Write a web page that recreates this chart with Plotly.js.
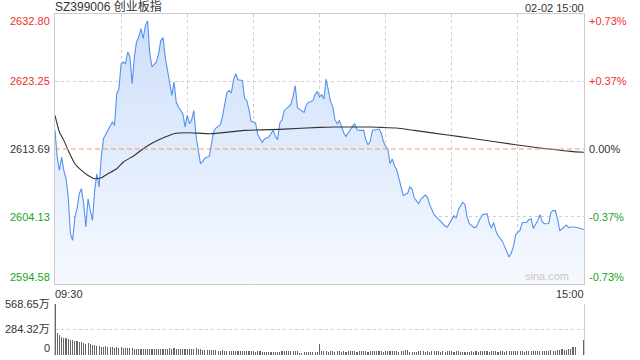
<!DOCTYPE html>
<html>
<head>
<meta charset="utf-8">
<script src="https://cdn.plot.ly/plotly-3.0.1.min.js"></script>
<style>
html,body{margin:0;padding:0;background:#fff;}
#chart{width:640px;height:360px;}
</style>
</head>
<body>
<div id="chart"></div>
<script>
// ---- data (minute index from 09:30, 0..240) ----
const priceMinute = [0,1,2,3,4,5,6,7,8,9,10,11,12,13,14,15,16,17,18,19,20,21,22,24,25,26,27,28,29,30,31,32,33,34,35,36,37,38,39,40,41,42,43,44,46,47,48,49,50,51,52,53,54,55,56,58,59,60,61,62,63,64,65,66,67,68,70,71,72,73,75,76,77,78,79,80,81,82,83,85,86,87,88,89,91,92,94,95,97,99,100,101,102,103,104,106,107,108,109,110,111,113,114,115,117,118,119,120,121,122,123,124,125,126,127,128,129,130,131,132,133,134,135,136,137,138,140,141,142,143,144,146,147,148,149,150,151,152,153,154,155,156,157,158,160,161,162,163,165,166,168,169,170,171,172,174,175,177,178,180,181,182,183,185,186,187,188,190,191,193,194,196,197,198,199,200,201,203,204,206,207,208,209,211,212,214,215,216,217,219,220,221,222,224,225,226,227,228,229,231,232,233,234,236,237,239,240];
const priceValue = [2616.32,2612.56,2610.66,2612.56,2610.66,2609.49,2606.89,2601.70,2600.75,2604.00,2605.24,2607.36,2608.07,2605.95,2602.65,2606.65,2605.00,2603.58,2607.83,2610.19,2608.31,2612.56,2615.15,2616.32,2617.03,2617.51,2617.03,2621.52,2622.20,2625.76,2626.01,2625.76,2627.42,2626.71,2622.93,2626.71,2628.84,2629.54,2630.72,2629.30,2631.19,2631.81,2627.18,2625.30,2626.01,2627.18,2629.06,2629.45,2626.71,2624.82,2623.17,2621.28,2623.17,2620.34,2619.63,2618.69,2616.80,2618.45,2617.27,2617.84,2619.15,2615.50,2613.50,2611.61,2611.93,2612.42,2612.64,2614.30,2616.18,2616.66,2617.13,2618.30,2619.96,2621.70,2621.98,2621.62,2623.50,2624.35,2623.50,2623.40,2620.91,2620.57,2619.25,2617.60,2617.37,2615.71,2614.62,2615.10,2615.39,2616.32,2615.47,2615.01,2617.37,2617.84,2619.15,2619.63,2619.96,2621.14,2622.65,2619.49,2619.25,2618.87,2619.96,2620.29,2620.53,2621.40,2621.84,2621.05,2621.38,2620.77,2623.60,2622.00,2620.43,2619.72,2617.84,2617.27,2617.74,2616.89,2615.95,2615.47,2615.86,2616.42,2616.89,2617.27,2616.42,2616.32,2616.32,2615.01,2614.30,2614.77,2616.32,2616.42,2616.52,2615.95,2614.77,2614.06,2613.69,2611.61,2612.27,2611.33,2610.76,2609.58,2608.39,2607.08,2607.46,2608.31,2608.03,2606.75,2605.95,2606.61,2607.18,2606.89,2605.80,2605.10,2604.39,2603.78,2603.44,2602.76,2602.65,2603.87,2604.25,2603.92,2605.10,2606.16,2605.80,2604.01,2603.11,2602.59,2602.59,2603.92,2604.39,2604.53,2603.21,2602.51,2603.30,2602.12,2601.42,2600.61,2599.90,2598.40,2598.97,2599.90,2601.56,2602.19,2603.26,2603.33,2603.68,2603.82,2602.44,2603.57,2604.39,2603.44,2603.11,2603.15,2604.74,2604.96,2604.96,2603.82,2602.12,2602.73,2602.93,2602.55,2602.65,2602.65,2602.55,2602.36,2602.30];
const avgMinute = [0,2,4,6,9,12,15,18,21,24,28,31,36,40,45,50,54,60,71,86,104,120,127,143,148,155,163,179,188,209,234,240];
const avgValue = [2618.45,2616.10,2614.91,2613.49,2611.61,2610.66,2609.95,2609.49,2609.63,2610.19,2610.90,2611.85,2612.78,2613.73,2614.68,2615.39,2615.86,2616.00,2615.86,2616.32,2616.50,2616.75,2616.80,2616.80,2616.75,2616.66,2616.32,2615.64,2615.25,2614.30,2613.35,2613.23];
const volumeValue = [568.65,
248,222,203,192,188,177,169,166,158,158,
143,147,132,124,136,124,113,109,105,98,
94,90,102,90,87,90,83,90,83,90,
83,83,79,79,79,72,72,72,72,72,
64,64,72,72,72,72,68,64,72,72,
68,75,72,75,68,72,68,64,68,68,
68,72,72,75,68,64,60,60,56,56,
60,52,56,49,49,56,49,45,45,45,
41,41,45,45,41,45,41,45,45,49,
38,41,41,38,38,30,30,34,34,38,
30,38,41,41,41,45,41,41,45,41,
26,26,30,34,38,38,38,38,38,128,
49,49,45,38,45,41,38,41,41,38,
41,38,41,45,45,41,38,45,45,41,
41,38,41,45,45,45,41,41,38,41,
41,45,45,41,41,38,41,49,56,52,
38,38,38,38,41,41,41,38,41,38,
45,41,49,41,38,45,38,41,41,41,
38,41,41,38,34,38,38,38,41,38,
41,34,41,41,41,41,38,41,41,41,
38,41,45,38,45,45,41,45,49,41,
41,41,38,41,41,45,45,49,49,49,
49,49,45,49,52,49,49,56,56,64,
56,60,68,72,90,90,4,4,4,162];
const priceTicks = [2632.80, 2623.25, 2613.69, 2604.13, 2594.58];
const priceTickText = ["2632.80","2623.25","2613.69","2604.13","2594.58"];
const pctTickText = ["+0.73%","+0.37%","0.00%","-0.37%","-0.73%"];
const tickColors = ["#f0302a","#f0302a","#333333","#1aa31a","#1aa31a"];
const volTicks = [568.65, 284.32, 0];
const volTickText = ["568.65万","284.32万","0"];
const titleText = "SZ399006 创业板指";
const dateText = "02-02 15:00";
const timeLabels = ["09:30","15:00"];
const prevClose = 2613.69;

const volumeMinute = volumeValue.map((v,i)=>i);
const FONT = "Arial, 'Liberation Sans', 'Noto Sans CJK SC', sans-serif";

const traces = [
  {
    x: priceMinute, y: priceValue, type: 'scatter', mode: 'lines',
    line: {color: '#5591ee', width: 1.1},
    fill: 'tozeroy',
    fillgradient: {type: 'vertical', start: 2594.58, stop: 2632.80,
      colorscale: [[0, 'rgba(246,249,255,1)'], [1, 'rgba(205,222,250,1)']]},
    xaxis: 'x', yaxis: 'y', hoverinfo: 'skip'
  },
  {
    x: avgMinute, y: avgValue, type: 'scatter', mode: 'lines',
    line: {color: '#333333', width: 1.1, shape: 'spline', smoothing: 0.6},
    xaxis: 'x', yaxis: 'y', hoverinfo: 'skip'
  },
  {
    x: volumeMinute, y: volumeValue, type: 'bar',
    marker: {color: '#666666', line: {width: 0}},
    width: 0.5,
    xaxis: 'x2', yaxis: 'y2', hoverinfo: 'skip'
  }
];

const annotations = [];
priceTicks.forEach((v,i)=>{
  const anchor = i===0 ? 'top' : (i===priceTicks.length-1 ? 'bottom' : 'middle');
  annotations.push({xref:'paper', yref:'y', x:0, y:v, xanchor:'right', yanchor:anchor,
    xshift:-3, yshift: i===0 ? 1 : (i===priceTicks.length-1 ? -1 : 0),
    text:priceTickText[i], showarrow:false, font:{family:FONT, size:11, color:tickColors[i]}});
  annotations.push({xref:'paper', yref:'y', x:1, y:v, xanchor:'left', yanchor:anchor,
    xshift:3, yshift: i===0 ? 1 : (i===priceTicks.length-1 ? -1 : 0),
    text:pctTickText[i], showarrow:false, font:{family:FONT, size:11, color:tickColors[i]}});
});
volTicks.forEach((v,i)=>{
  annotations.push({xref:'paper', yref:'y2', x:0, y:v, xanchor:'right',
    yanchor: i===volTicks.length-1 ? 'bottom' : 'middle', yshift: i===volTicks.length-1 ? -1 : 0,
    xshift:-3, text:volTickText[i], showarrow:false, font:{family:FONT, size:11, color:'#333333'}});
});
annotations.push({xref:'paper', yref:'paper', x:0, y:1, xanchor:'left', yanchor:'bottom', yshift:-2, xshift:-2,
  text:titleText, showarrow:false, font:{family:FONT, size:12, color:'#333333'}});
annotations.push({xref:'paper', yref:'paper', x:1, y:1, xanchor:'right', yanchor:'bottom', yshift:-2, xshift:2,
  text:dateText, showarrow:false, font:{family:FONT, size:11, color:'#333333'}});
annotations.push({xref:'x', yref:'paper', x:0, y:0.2082, xanchor:'left', yanchor:'top', xshift:-2, yshift:-2,
  text:timeLabels[0], showarrow:false, font:{family:FONT, size:11, color:'#333333'}});
annotations.push({xref:'x', yref:'paper', x:240, y:0.2082, xanchor:'right', yanchor:'top', xshift:2, yshift:-2,
  text:timeLabels[1], showarrow:false, font:{family:FONT, size:11, color:'#333333'}});
annotations.push({xref:'paper', yref:'y', x:0.975, y:2594.58, xanchor:'right', yanchor:'bottom', yshift:0,
  text:'sina.com', showarrow:false, font:{family:FONT, size:11, color:'#c8c8c8'}});

const layout = {
  width: 640, height: 360,
  margin: {l: 55, r: 56, t: 14, b: 5, pad: 0},
  paper_bgcolor: '#ffffff', plot_bgcolor: '#ffffff',
  showlegend: false,
  bargap: 0,
  xaxis: {domain:[0,1], range:[0,240], anchor:'y', tickvals:[0,30,60,90,120,150,180,210,240],
    showticklabels:false, ticks:'', showgrid:true, gridcolor:'#cfcfcf', griddash:'dot', gridwidth:1,
    showline:true, linecolor:'#cccccc', linewidth:1, mirror:true, zeroline:false, fixedrange:true},
  yaxis: {domain:[0.2082,1], range:[2594.58,2632.80], anchor:'x', tickvals:[2604.13,2623.25],
    showticklabels:false, ticks:'', showgrid:true, gridcolor:'#cfcfcf', griddash:'dot', gridwidth:1,
    showline:true, linecolor:'#cccccc', linewidth:1, mirror:true, zeroline:false, fixedrange:true},
  xaxis2: {domain:[0,1], range:[0,240], anchor:'y2', showticklabels:false, ticks:'', showgrid:false,
    showline:false, zeroline:false, fixedrange:true},
  yaxis2: {domain:[0,0.1496], range:[0,568.65], anchor:'x2', tickvals:[284.32,568.65],
    showticklabels:false, ticks:'', showgrid:true, gridcolor:'#cfcfcf', griddash:'dot', gridwidth:1,
    showline:true, linecolor:'#cccccc', linewidth:1, mirror:true, zeroline:false, fixedrange:true},
  shapes: [
    {type:'line', xref:'paper', yref:'y', x0:0, x1:1, y0:prevClose, y1:prevClose,
     line:{color:'#ee9a6a', width:1, dash:'5px,3px'}}
  ],
  annotations: annotations
};

Plotly.newPlot('chart', traces, layout, {staticPlot:true, displayModeBar:false});
</script>
</body>
</html>
